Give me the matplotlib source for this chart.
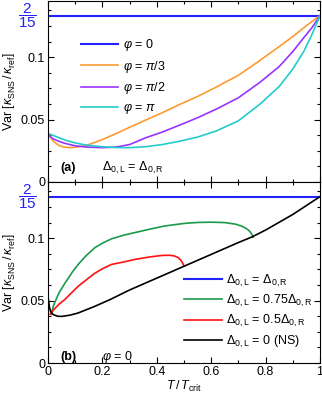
import matplotlib
matplotlib.use("Agg")
import matplotlib.pyplot as plt
from matplotlib.ticker import MultipleLocator

plt.rcParams['font.family'] = ['Liberation Sans', 'DejaVu Sans']
plt.rcParams['mathtext.fontset'] = 'custom'
plt.rcParams['mathtext.rm'] = 'Liberation Sans'
plt.rcParams['mathtext.it'] = 'Liberation Sans:italic'
plt.rcParams['mathtext.bf'] = 'Liberation Sans:bold'

# ---------------- data: panel (a) ----------------
T_a = [0, 0.02, 0.04, 0.06, 0.08, 0.1, 0.14, 0.2, 0.25, 0.3, 0.36, 0.42,
       0.48, 0.55, 0.62, 0.7, 0.78, 0.85, 0.9, 0.94, 0.97, 1.0]
var_phi0 = 2 / 15
var_pi3 = [0.039, 0.0325, 0.0293, 0.0279, 0.0275, 0.0278, 0.0292, 0.0340,
           0.0388, 0.0438, 0.0497, 0.0555, 0.0617, 0.0685, 0.0762, 0.0855,
           0.0975, 0.1085, 0.1165, 0.1235, 0.1285, 0.1333]
var_pi2 = [0.0376, 0.0345, 0.0326, 0.0311, 0.0300, 0.0290, 0.0280, 0.0275,
           0.0280, 0.0300, 0.0355, 0.0400, 0.0452, 0.0515, 0.0585, 0.0675,
           0.0800, 0.0925, 0.1045, 0.1155, 0.1235, 0.1333]
var_pi = [0.039, 0.0372, 0.0355, 0.0338, 0.0325, 0.0313, 0.0296, 0.0282,
          0.0276, 0.0275, 0.0283, 0.0300, 0.0325, 0.0360, 0.0410, 0.0490,
          0.0625, 0.0765, 0.0905, 0.1045, 0.1180, 0.1333]
labels_a = [r'$\varphi$ = 0', r'$\varphi$ = $\pi/3$', r'$\varphi$ = $\pi/2$', r'$\varphi$ = $\pi$']

# ---------------- data: panel (b) ----------------
T_ns = [0, 0.005, 0.01, 0.02, 0.035, 0.05, 0.08, 0.11, 0.17, 0.23, 0.3, 0.4,
        0.5, 0.6, 0.7, 0.75, 0.8, 0.9, 1.0]
var_ns = [0.0535, 0.045, 0.041, 0.0387, 0.0375, 0.0373, 0.0383, 0.0400,
          0.0452, 0.0510, 0.0585, 0.0680, 0.0775, 0.0870, 0.0965, 0.1010,
          0.1065, 0.1190, 0.1333]
T_075 = [0.012, 0.02, 0.04, 0.0625, 0.09, 0.111, 0.14, 0.173, 0.2, 0.234,
         0.28, 0.32, 0.38, 0.43, 0.5, 0.55, 0.6, 0.65, 0.69, 0.71, 0.725,
         0.737, 0.745, 0.751, 0.754]
var_075 = [0.039, 0.046, 0.056, 0.064, 0.073, 0.079, 0.086, 0.0925, 0.096,
           0.0995, 0.1025, 0.1045, 0.1075, 0.1098, 0.1118, 0.1126, 0.1128,
           0.1125, 0.1112, 0.1098, 0.1083, 0.1065, 0.1045, 0.1025, 0.1008]
T_05 = [0.008, 0.02, 0.04, 0.0625, 0.09, 0.111, 0.14, 0.173, 0.2, 0.234,
        0.28, 0.32, 0.375, 0.42, 0.449, 0.465, 0.478, 0.488, 0.495, 0.5]
var_05 = [0.039, 0.0425, 0.047, 0.051, 0.057, 0.0615, 0.0665, 0.072, 0.0755,
          0.079, 0.081, 0.083, 0.085, 0.0862, 0.0863, 0.0857, 0.0845, 0.0825,
          0.080, 0.0777]
labels_b = [r'$\Delta_{0,\mathrm{L}}$ = $\Delta_{0,\mathrm{R}}$',
            r'$\Delta_{0,\mathrm{L}}$ = 0.75$\Delta_{0,\mathrm{R}}$',
            r'$\Delta_{0,\mathrm{L}}$ = 0.5$\Delta_{0,\mathrm{R}}$',
            r'$\Delta_{0,\mathrm{L}}$ = 0 (NS)']
x_ticks = [0, 0.2, 0.4, 0.6, 0.8, 1.0]
x_ticklabels = ['0', '0.2', '0.4', '0.6', '0.8', '1']
y_ticks = [0, 0.05, 0.1]
y_ticklabels = ['0', '0.05', '0.1']

BLUE = '#2222ff'
ORANGE = '#ff9a33'
PURPLE = '#9a33ff'
CYAN = '#22cccc'
GREEN = '#1b9a4b'
RED = '#ff1111'

fig = plt.figure(figsize=(3.22, 3.95), dpi=100)
L, R = 48 / 322, 320 / 322
ax1 = fig.add_axes([L, 1 - 182 / 395, R - L, 181 / 395])
ax2 = fig.add_axes([L, 1 - 363 / 395, R - L, 181 / 395])

lw = 1.2
ax1.plot([0, 1], [var_phi0, var_phi0], color=BLUE, lw=1.5, label=labels_a[0])
ax1.plot(T_a, var_pi3, color=ORANGE, lw=lw, label=labels_a[1])
ax1.plot(T_a, var_pi2, color=PURPLE, lw=lw, label=labels_a[2])
ax1.plot(T_a, var_pi, color=CYAN, lw=lw, label=labels_a[3])

ax2.plot([0, 1], [var_phi0, var_phi0], color=BLUE, lw=1.5, label=labels_b[0])
ax2.plot(T_075, var_075, color=GREEN, lw=lw, label=labels_b[1])
ax2.plot(T_05, var_05, color=RED, lw=lw, label=labels_b[2])
ax2.plot(T_ns, var_ns, color='black', lw=lw, label=labels_b[3])

for ax in (ax1, ax2):
    ax.set_xlim(0, 1)
    ax.set_ylim(0, 0.145)
    ax.set_yticks(y_ticks)
    ax.set_yticklabels(y_ticklabels)
    ax.set_xticks(x_ticks)
    ax.yaxis.set_minor_locator(MultipleLocator(0.0125))
    ax.xaxis.set_minor_locator(MultipleLocator(0.1))
    ax.tick_params(which='both', direction='in', top=True, right=True,
                   labelsize=9, width=0.8, pad=2)
    ax.tick_params(which='major', length=4)
    ax.tick_params(which='minor', length=2)
    for s in ax.spines.values():
        s.set_linewidth(0.8)
    ax.set_ylabel(r'Var $\left[\kappa_{\mathrm{SNS}}\,/\,\kappa_{\mathrm{ref}}\right]$', fontsize=9)
    ax.yaxis.set_label_coords(-0.115, 0.5)
    ax.text(-0.04, var_phi0, r'$\dfrac{2}{15}$', color=BLUE, fontsize=11,
            transform=ax.get_yaxis_transform(), ha='right', va='center')

ax1.tick_params(labelbottom=False)
ax2.set_xticklabels(x_ticklabels)
ax2.set_xlabel(r'$T\,/\,T_{\mathrm{crit}}$', fontsize=9, labelpad=1)

ax1.legend(loc='upper left', bbox_to_anchor=(0.12, 0.80), frameon=False,
           fontsize=9, handlelength=3.0, handletextpad=0.35, labelspacing=0.45,
           borderpad=0, borderaxespad=0)
ax2.legend(loc='upper left', bbox_to_anchor=(0.5, 0.50), frameon=False,
           fontsize=9, handlelength=3.0, handletextpad=0.35, labelspacing=0.35,
           borderpad=0, borderaxespad=0)

ax1.text(0.045, 0.08, '(a)', fontweight='bold', fontsize=9,
         transform=ax1.transAxes, va='center')
ax1.text(0.2, 0.08, r'$\Delta_{0,\mathrm{L}}$ = $\Delta_{0,\mathrm{R}}$', fontsize=9,
         transform=ax1.transAxes, va='center')
ax2.text(0.045, 0.035, '(b)', fontweight='bold', fontsize=9,
         transform=ax2.transAxes, va='center')
ax2.text(0.2, 0.035, r'$\varphi$ = 0', fontsize=9,
         transform=ax2.transAxes, va='center')

fig.savefig('out.png', dpi=100)
